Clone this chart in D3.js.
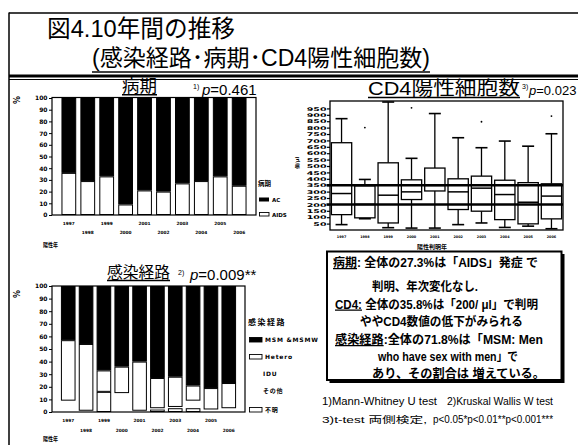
<!DOCTYPE html>
<html>
<head>
<meta charset="utf-8">
<script src="https://cdn.jsdelivr.net/npm/d3@7/dist/d3.min.js"></script>
<style>
  body { margin: 0; background: #fff; }
  svg { display: block; }
</style>
</head>
<body>
<svg id="fig" width="578" height="445"></svg>
<script>
// ---------- data ----------
const years = [1997, 1998, 1999, 2000, 2001, 2002, 2003, 2004, 2005, 2006];

// 病期 (%): AIDS発症で判明 / AC
const stageAIDS = [36, 29, 33, 9, 21, 20, 27, 29, 33, 25];
const stageAC   = [64, 71, 67, 91, 79, 80, 73, 71, 67, 75];

// 感染経路 (%)
const routeMSM     = [43, 46, 67, 64, 60, 73, 72, 79, 81, 77];
const routeHetero  = [48, 53, 17, 21, 39, 24, 24, 12, 17, 20];
const routeIDU     = [4, 0, 0, 8, 0, 1, 1, 3, 1, 2];
const routeOther   = [5, 1, 0, 7, 1, 0, 0, 3, 1, 1];
const routeUnknown = [0, 0, 16, 0, 0, 2, 3, 3, 0, 0];

// CD4陽性細胞数 (/μl) box plot summaries
const cd4Min = [42, 88, 18, 15, 15, 42, 55, 20, 30, 10];
const cd4Q1  = [120, 95, 55, 238, 305, 160, 147, 81, 48, 87];
const cd4Med = [285, 200, 272, 298, 348, 298, 327, 277, 217, 265];
const cd4Q3  = [682, 345, 525, 392, 484, 400, 421, 389, 370, 361];
const cd4Max = [870, 395, 1000, 560, 910, 721, 643, 695, 655, 752];
const cd4Outliers = [[], [800], [], [955], [], [], [846], [], [], [890]];
const cd4RefLines = [350, 200];

const pctTicks = [0, 10, 20, 30, 40, 50, 60, 70, 80, 90, 100];
const cd4Ticks = [50, 100, 150, 200, 250, 300, 350, 400, 450, 500, 550, 600, 650, 700, 750, 800, 850, 900, 950];

// ---------- setup ----------
const JP = "'Liberation Sans','Noto Sans CJK JP',sans-serif";
const TINY = "'DejaVu Sans',sans-serif";
const svg = d3.select("#fig");
svg.append("rect").attr("width", 578).attr("height", 445).attr("fill", "#fff");

function hline(x1, x2, y, w) {
  svg.append("line").attr("x1", x1).attr("x2", x2).attr("y1", y).attr("y2", y)
    .attr("stroke", "#000").attr("stroke-width", w);
}
function vline(x, y1, y2, w) {
  svg.append("line").attr("x1", x).attr("x2", x).attr("y1", y1).attr("y2", y2)
    .attr("stroke", "#000").attr("stroke-width", w);
}
function label(x, y, str, size, opts = {}) {
  const t = svg.append("text").attr("x", x).attr("y", y)
    .attr("font-family", opts.family || JP).attr("font-size", size)
    .attr("font-weight", opts.weight || "normal")
    .attr("fill", "#000").text(str);
  if (opts.anchor) t.attr("text-anchor", opts.anchor);
  if (opts.len) t.attr("textLength", opts.len).attr("lengthAdjust", "spacingAndGlyphs");
  if (opts.ls) t.attr("letter-spacing", opts.ls);
  if (opts.style) t.attr("font-style", opts.style);
  return t;
}
function underlined(x, y, str, size, len, gap) {
  const t = label(x, y, str, size, { len });
  const w = len || t.node().getComputedTextLength();
  hline(x, x + w, y + gap, 1.4);
}

// ---------- page frame and heading ----------
hline(9, 578, 13, 1.5);
vline(9, 12.5, 445, 1.5);
hline(9, 578, 76, 3);
hline(9, 578, 79.5, 1);

label(47, 37, "図4.10年間の推移", 24, { len: 188 });
label(92, 66, "(感染経路･病期･CD4陽性細胞数)", 23, { len: 338 });
hline(92, 430, 72, 1.5);

// ---------- 病期 stacked bars ----------
(function () {
  const x = d3.scaleBand().domain(years).range([52, 256]).paddingInner(0.22).paddingOuter(0.5);
  const y = d3.scaleLinear().domain([0, 100]).range([215, 98]);
  const rows = years.map((yr, i) => ({ year: yr, AIDS: stageAIDS[i], AC: stageAC[i] }));
  const stack = d3.stack().keys(["AIDS", "AC"])(rows);
  const fills = { AIDS: "#fff", AC: "#000" };

  const g = svg.append("g");
  stack.forEach(layer => {
    g.append("g").selectAll("rect").data(layer).join("rect")
      .attr("x", d => x(d.data.year) + 0.5)
      .attr("width", x.bandwidth() - 1)
      .attr("y", d => y(d[1]) + 0.5)
      .attr("height", d => Math.max(0, y(d[0]) - y(d[1]) - 1))
      .attr("fill", fills[layer.key])
      .attr("stroke", "#000").attr("stroke-width", 1);
  });
  svg.append("rect").attr("x", 52).attr("y", 97.5).attr("width", 204).attr("height", 117.5)
    .attr("fill", "none").attr("stroke", "#000").attr("stroke-width", 1.2);

  const ya = svg.append("g").attr("transform", "translate(52,0)")
    .call(d3.axisLeft(y).tickValues(pctTicks).tickSize(3).tickPadding(1.5));
  ya.select(".domain").remove();
  ya.selectAll("text").attr("font-family", TINY).attr("font-size", 6).attr("font-weight", "bold");

  const xa = svg.append("g").attr("transform", "translate(0,215)")
    .call(d3.axisBottom(x).tickSize(0));
  xa.select(".domain").remove();
  xa.selectAll("text").attr("font-family", TINY).attr("font-size", 4.3).attr("font-weight", "bold")
    .attr("dy", 0).attr("y", (d, i) => i % 2 === 0 ? 9.5 : 19);

  label(20, 100, "%", 8, { family: TINY, weight: "bold" })
    .attr("transform", "rotate(-90,20,100)").attr("text-anchor", "middle");
  label(43, 247, "陽性年", 6, { weight: "bold", len: 15 });

  underlined(122, 92, "病期", 17, 35, 2.8);
  label(193, 89, "1)", 7);
  const p = label(202, 95, "", 15);
  p.append("tspan").attr("font-style", "italic").text("p");
  p.append("tspan").text("=0.461");

  // legend
  label(258, 186, "病期", 6.5, { weight: "bold" });
  svg.append("rect").attr("x", 259).attr("y", 197.5).attr("width", 10).attr("height", 4).attr("fill", "#000");
  label(272, 202, "AC", 5.5, { family: TINY, weight: "bold" });
  svg.append("rect").attr("x", 259.5).attr("y", 212.5).attr("width", 9.5).attr("height", 3.5)
    .attr("fill", "#fff").attr("stroke", "#000").attr("stroke-width", 0.9);
  label(272, 217, "AIDS", 5.5, { family: TINY, weight: "bold" });
})();

// ---------- 感染経路 stacked bars ----------
(function () {
  const x = d3.scaleBand().domain(years).range([52, 245]).paddingInner(0.18).paddingOuter(0.5);
  const y = d3.scaleLinear().domain([0, 100]).range([412, 286]);
  const keys = ["unknown", "other", "idu", "hetero", "msm"];
  const rows = years.map((yr, i) => ({
    year: yr, unknown: routeUnknown[i], other: routeOther[i], idu: routeIDU[i],
    hetero: routeHetero[i], msm: routeMSM[i]
  }));
  const stack = d3.stack().keys(keys)(rows);
  const style = {
    msm: { fill: "#000", stroke: "#000" },
    hetero: { fill: "#fff", stroke: "#000" },
    idu: { fill: "#fff", stroke: "none" },
    other: { fill: "#fff", stroke: "none" },
    unknown: { fill: "#fff", stroke: "#000" }
  };

  const g = svg.append("g");
  stack.forEach(layer => {
    g.append("g").selectAll("rect").data(layer.filter(d => d[1] > d[0])).join("rect")
      .attr("x", d => x(d.data.year) + 0.5)
      .attr("width", x.bandwidth() - 1)
      .attr("y", d => y(d[1]) + 0.5)
      .attr("height", d => Math.max(0.5, y(d[0]) - y(d[1]) - 1))
      .attr("fill", style[layer.key].fill)
      .attr("stroke", style[layer.key].stroke).attr("stroke-width", 1);
  });
  svg.append("rect").attr("x", 52).attr("y", 286).attr("width", 193).attr("height", 126)
    .attr("fill", "none").attr("stroke", "#000").attr("stroke-width", 1.2);

  const ya = svg.append("g").attr("transform", "translate(52,0)")
    .call(d3.axisLeft(y).tickValues(pctTicks).tickSize(3).tickPadding(1.5));
  ya.select(".domain").remove();
  ya.selectAll("text").attr("font-family", TINY).attr("font-size", 6).attr("font-weight", "bold");

  const xa = svg.append("g").attr("transform", "translate(0,412)")
    .call(d3.axisBottom(x).tickSize(0));
  xa.select(".domain").remove();
  xa.selectAll("text").attr("font-family", TINY).attr("font-size", 4.3).attr("font-weight", "bold")
    .attr("dy", 0).attr("y", (d, i) => i % 2 === 0 ? 9.5 : 19.5);

  label(20, 294, "%", 8, { family: TINY, weight: "bold" })
    .attr("transform", "rotate(-90,20,294)").attr("text-anchor", "middle");
  label(43, 441, "陽性年", 6, { weight: "bold", len: 15 });

  underlined(107, 278, "感染経路", 16, 63, 2.5);
  label(178, 275, "2)", 7);
  const p = label(190, 280, "", 15);
  p.append("tspan").attr("font-style", "italic").text("p");
  p.append("tspan").text("=0.009**");

  // legend
  const legendItems = [
    { name: "MSM &MSMW", key: "msm" },
    { name: "Hetero", key: "hetero" },
    { name: "IDU", key: "idu" },
    { name: "その他", key: "other" },
    { name: "不明", key: "unknown" }
  ];
  const rowsY = [340, 357, 374, 391, 410];
  label(248, 325, "感染経路", 8, { weight: "bold", ls: 1.5 });
  legendItems.forEach((it, i) => {
    const s = style[it.key];
    if (s.stroke !== "none") {
      svg.append("rect").attr("x", 249.5).attr("y", rowsY[i] - 2.5).attr("width", 12.5).attr("height", 4.5)
        .attr("fill", s.fill).attr("stroke", "#000").attr("stroke-width", 0.9);
    }
    label(s.stroke !== "none" ? 265 : 263, rowsY[i] + 2.2, it.name, 6,
      { family: "'DejaVu Sans','Noto Sans CJK JP',sans-serif", weight: "bold", ls: 0.8 });
  });
})();

// ---------- CD4 box plot ----------
(function () {
  const x = d3.scaleBand().domain(years).range([330, 563]).paddingInner(0.13).paddingOuter(0.06);
  const y = d3.scaleLinear().domain([0, 1008]).range([230, 101]);
  const bw = x.bandwidth();
  const cap = 12;
  const g = svg.append("g").attr("stroke", "#000").attr("fill", "none");

  years.forEach((yr, i) => {
    const cx = x(yr) + bw / 2;
    // whiskers
    g.append("line").attr("x1", cx).attr("x2", cx).attr("y1", y(cd4Q3[i])).attr("y2", y(cd4Max[i])).attr("stroke-width", 1.3);
    g.append("line").attr("x1", cx - cap / 2).attr("x2", cx + cap / 2).attr("y1", y(cd4Max[i])).attr("y2", y(cd4Max[i])).attr("stroke-width", 1.6);
    g.append("line").attr("x1", cx).attr("x2", cx).attr("y1", y(cd4Q1[i])).attr("y2", y(cd4Min[i])).attr("stroke-width", 1.3);
    g.append("line").attr("x1", cx - cap / 2).attr("x2", cx + cap / 2).attr("y1", y(cd4Min[i])).attr("y2", y(cd4Min[i])).attr("stroke-width", 1.6);
    // box
    g.append("rect").attr("x", x(yr)).attr("width", bw)
      .attr("y", y(cd4Q3[i])).attr("height", y(cd4Q1[i]) - y(cd4Q3[i]))
      .attr("fill", "#fff").attr("stroke-width", 1.3);
    g.append("line").attr("x1", x(yr)).attr("x2", x(yr) + bw)
      .attr("y1", y(cd4Med[i])).attr("y2", y(cd4Med[i])).attr("stroke-width", 1.5);
    // outliers
    cd4Outliers[i].forEach(v => {
      svg.append("circle").attr("cx", cx).attr("cy", y(v)).attr("r", 0.9).attr("fill", "#000");
    });
  });

  svg.append("rect").attr("x", 330).attr("y", 101).attr("width", 233).attr("height", 129)
    .attr("fill", "none").attr("stroke", "#000").attr("stroke-width", 1.3);

  cd4RefLines.forEach(v => hline(326.5, 563, y(v), 2.5));

  const ya = svg.append("g").attr("transform", "translate(330,0)")
    .call(d3.axisLeft(y).tickValues(cd4Ticks).tickSize(3).tickPadding(0.5));
  ya.select(".domain").remove();
  ya.selectAll("line").attr("stroke-width", 1.2);
  ya.selectAll("text").attr("font-family", TINY).attr("font-size", 5).attr("font-weight", "bold")
    .attr("textLength", d => String(d).length * 6.6).attr("lengthAdjust", "spacingAndGlyphs");

  const xa = svg.append("g").attr("transform", "translate(0,230)")
    .call(d3.axisBottom(x).tickSize(0));
  xa.select(".domain").remove();
  xa.selectAll("text").attr("font-family", TINY).attr("font-size", 3.4).attr("font-weight", "bold")
    .attr("dy", 0).attr("y", 7.5);

  label(417, 249, "陽性判明年", 6, { weight: "bold", len: 30 });
  label(299, 163, "個/μl", 5, { family: TINY, weight: "bold", anchor: "middle" })
    .attr("transform", "rotate(-90,299,163)");

  underlined(368, 95, "CD4陽性細胞数", 19, 152, 2.5);
  label(522, 89, "3)", 7);
  const p = label(529, 95, "", 13);
  p.append("tspan").attr("font-style", "italic").text("p");
  p.append("tspan").text("=0.023");
})();

// ---------- summary note ----------
(function () {
  svg.append("rect").attr("x", 329.5).attr("y", 254).attr("width", 235).attr("height", 129).attr("fill", "#000");
  svg.append("rect").attr("x", 327).attr("y", 251.5).attr("width", 234.5).attr("height", 128.5)
    .attr("fill", "#fff").attr("stroke", "#000").attr("stroke-width", 2);

  const noteLines = [
    [{ t: "病期", u: true }, { t: ": 全体の27.3%は「AIDS」発症 で" }],
    [{ t: "判明、年次変化なし." }],
    [{ t: "CD4:", u: true }, { t: " 全体の35.8%は「200/ μl」で判明" }],
    [{ t: "ややCD4数値の低下がみられる" }],
    [{ t: "感染経路", u: true }, { t: ":全体の71.8%は「MSM: Men" }],
    [{ t: "who have sex with men」で" }],
    [{ t: "あり、その割合は 増えている。" }]
  ];
  const lineX = [333, 372, 335, 360, 335, 378, 372];
  const lineW = [205, 106, 203, 163, 208, 140, 173];
  const lineY = [267, 290.5, 308.5, 326, 344, 361, 378];
  noteLines.forEach((parts, i) => {
    const t = svg.append("text").attr("x", lineX[i]).attr("y", lineY[i])
      .attr("font-family", JP).attr("font-size", 12.5).attr("font-weight", "bold")
      .attr("textLength", lineW[i]).attr("lengthAdjust", "spacingAndGlyphs")
      .attr("xml:space", "preserve").style("white-space", "pre");
    parts.forEach(pt => {
      const s = t.append("tspan").text(pt.t);
      if (pt.u) s.attr("text-decoration", "underline");
    });
  });

  label(322, 404.5, "1)Mann-Whitney U test", 10, { len: 115 });
  label(447, 404.5, "2)Kruskal Wallis W test", 10, { len: 106 });
  label(322, 422.5, "3)t-test 両側検定,", 9, { len: 105 });
  label(433, 422.5, "p<0.05*p<0.01**p<0.001***", 10, { len: 120 });
})();
</script>
</body>
</html>
